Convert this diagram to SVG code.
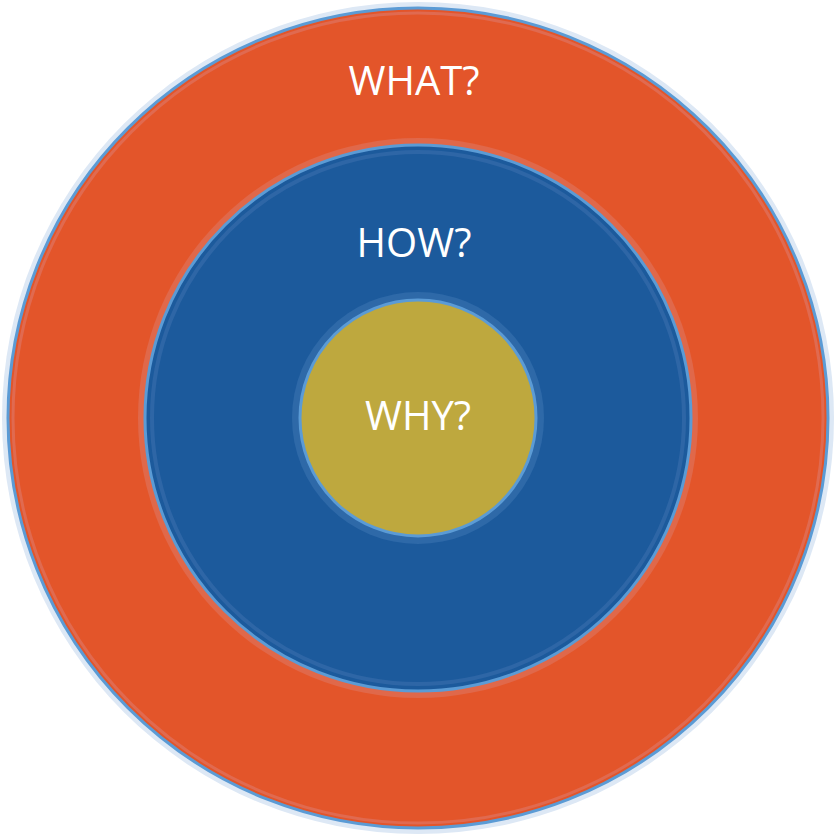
<svg xmlns="http://www.w3.org/2000/svg" width="837" height="836" viewBox="0 0 837 836">
<style>
.lbl{font-family:"Open Sans","Noto Sans",sans-serif;fill:#fff;text-anchor:middle;font-size:40px}
.ring{stroke:#5b9bd5;stroke-width:3}
</style>
<rect width="837" height="836" fill="#fff"/>
<g id="what">
<circle cx="418" cy="418" r="416" fill="#dde8f5"/>
<circle cx="418" cy="418" r="410" fill="#e3552a" class="ring"/>
<circle cx="418" cy="418" r="405" fill="none" stroke="#e06a50" stroke-width="3"/>
<text class="lbl" x="414" y="95">WHAT?</text>
</g>
<g id="how">
<circle cx="418" cy="418" r="280" fill="#e0684a"/>
<circle cx="418" cy="418" r="273" fill="#1c5a9c" class="ring" stroke="#7fb0e4"/>
<circle cx="418" cy="418" r="266" fill="none" stroke="#2e66a6" stroke-width="4"/>
<text class="lbl" x="414" y="257">HOW?</text>
</g>
<g id="why">
<circle cx="418" cy="418" r="126" fill="#2e69a8"/>
<circle cx="418" cy="418" r="118" fill="#bea83e" class="ring" stroke="#7fb0e4"/>
<text class="lbl" x="418" y="430">WHY?</text>
</g>
<g id="connectors"/>
</svg>
